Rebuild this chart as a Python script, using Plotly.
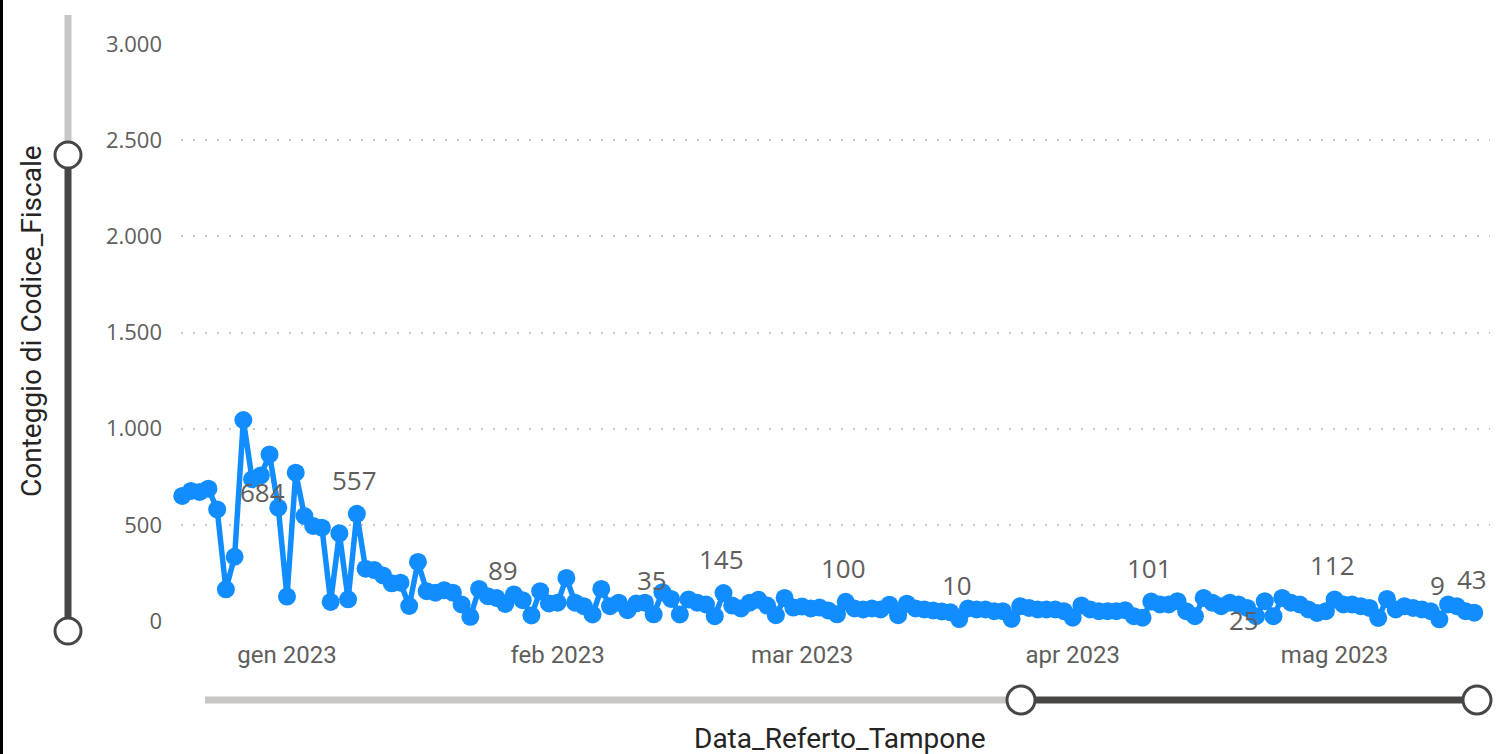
import pandas as pd
import plotly.graph_objects as go

# ---------------- data ----------------
start_date = "2022-12-20"
counts = [
    650, 676, 671, 688, 580, 165, 334, 1045, 737, 757, 866, 589,
    127, 771, 546, 494, 485, 99, 456, 113, 557, 272, 265, 237, 196, 199, 78, 307, 155, 147,
    160, 147, 86, 22, 167, 129, 120, 89, 138, 108, 29, 155, 91,
    95, 224, 95, 77, 34, 167, 77, 95, 56, 91, 95, 35, 150, 115, 34, 112, 95, 86, 25, 145,
    80, 65, 95, 110, 80, 30, 120, 70,
    75, 65, 70, 55, 35, 100, 65, 60, 65, 60, 85, 30, 90, 65, 60, 55, 50, 45, 10, 65, 60, 60, 51, 51,
    11, 77, 68, 60, 60, 60, 51, 17,
    81, 60, 51, 51, 51, 56, 25, 17, 101, 86, 86, 103, 51, 25, 120, 95, 77, 95, 86, 68, 25, 103, 25, 120, 95, 86, 60, 42,
    51, 112, 86, 86, 77, 68, 16, 115, 60, 77, 68, 60, 51, 9, 86, 77, 51, 43,
]
dates = pd.date_range(start_date, periods=len(counts), freq="D")

label_dates = ["2022-12-29", "2023-01-09", "2023-01-26", "2023-02-12", "2023-02-20",
               "2023-03-06", "2023-03-19", "2023-04-10", "2023-04-22", "2023-05-01",
               "2023-05-13", "2023-05-17"]
label_texts = ["684", "557", "89", "35", "145", "100", "10", "101", "25", "112", "9", "43"]

month_ticks = ["2023-01-01", "2023-02-01", "2023-03-01", "2023-04-01", "2023-05-01"]
month_labels = ["gen 2023", "feb 2023", "mar 2023", "apr 2023", "mag 2023"]
y_ticks = [0, 500, 1000, 1500, 2000, 2500, 3000]
y_labels = ["0", "500", "1.000", "1.500", "2.000", "2.500", "3.000"]

# ---------------- layout geometry ----------------
W, H = 1500, 754
L, R, T, B = 181, 1490, 44, 621
PW, PH = R - L, B - T
BLUE = "#118DFF"
DARK = "#484644"
LIGHT = "#C8C6C4"
GREY_TXT = "#605E5C"


def px(x):
    return (x - L) / PW


def py(y):
    return (B - y) / PH


jan1 = pd.Timestamp("2023-01-01")
px_per_day = 8.73
x0 = jan1 + pd.Timedelta(days=(L - 287) / px_per_day)
x1 = jan1 + pd.Timedelta(days=(R - 287) / px_per_day)

fig = go.Figure()
fig.add_trace(go.Scatter(
    x=dates, y=counts, mode="lines+markers",
    line=dict(color=BLUE, width=5.5),
    marker=dict(color=BLUE, size=18),
    cliponaxis=False, hoverinfo="x+y", showlegend=False,
))

lookup = dict(zip(dates.strftime("%Y-%m-%d"), counts))
label_shift = {"684": (2, -17), "25": (-12, -4)}
annotations = []
for d, t in zip(label_dates, label_texts):
    xs, ys = label_shift.get(t, (-2, 34))
    annotations.append(dict(
        x=d, y=lookup[d], xref="x", yref="y", text=t, showarrow=False,
        xshift=xs, yshift=ys, font=dict(family="Open Sans", size=26, color=GREY_TXT),
    ))

annotations.append(dict(
    x=px(840), y=py(738), xref="paper", yref="paper", text="Data_Referto_Tampone",
    showarrow=False, font=dict(family="Roboto", size=28, color="#252423"),
    xanchor="center", yanchor="middle",
))
annotations.append(dict(
    x=px(32), y=py(321), xref="paper", yref="paper", text="Conteggio di Codice_Fiscale",
    showarrow=False, textangle=-90, font=dict(family="Roboto", size=28, color="#252423"),
    xanchor="center", yanchor="middle",
))

shapes = []
# left border
shapes.append(dict(type="line", xref="paper", yref="paper", x0=px(1.5), x1=px(1.5),
                   y0=py(0), y1=py(754), line=dict(color="#000000", width=3)))
# y zoom slider
shapes.append(dict(type="line", xref="paper", yref="paper", x0=px(68), x1=px(68),
                   y0=py(15), y1=py(155), line=dict(color=LIGHT, width=7)))
shapes.append(dict(type="line", xref="paper", yref="paper", x0=px(68), x1=px(68),
                   y0=py(155), y1=py(631), line=dict(color=DARK, width=7)))
for cy in (155, 631):
    shapes.append(dict(type="circle", xref="paper", yref="paper",
                       x0=px(68 - 13), x1=px(68 + 13), y0=py(cy + 13), y1=py(cy - 13),
                       fillcolor="white", line=dict(color=DARK, width=3)))
# x zoom slider
shapes.append(dict(type="line", xref="paper", yref="paper", x0=px(205), x1=px(1021),
                   y0=py(700), y1=py(700), line=dict(color=LIGHT, width=7)))
shapes.append(dict(type="line", xref="paper", yref="paper", x0=px(1021), x1=px(1477),
                   y0=py(700), y1=py(700), line=dict(color=DARK, width=7)))
for cx in (1021, 1477):
    shapes.append(dict(type="circle", xref="paper", yref="paper",
                       x0=px(cx - 14), x1=px(cx + 14), y0=py(700 + 14), y1=py(700 - 14),
                       fillcolor="white", line=dict(color=DARK, width=3)))

fig.update_layout(
    width=W, height=H,
    margin=dict(l=L, r=W - R, t=T, b=H - B, pad=0),
    paper_bgcolor="white", plot_bgcolor="white",
    annotations=annotations, shapes=shapes,
    xaxis=dict(
        type="date", range=[x0, x1], tickvals=month_ticks, ticktext=month_labels,
        showgrid=False, zeroline=False, showline=False, ticks="",
        tickfont=dict(family="Roboto", size=24, color=GREY_TXT),
        ticklabelstandoff=17,
    ),
    yaxis=dict(
        range=[0, 3000], tickvals=y_ticks, ticktext=y_labels,
        showgrid=True, gridcolor=LIGHT, gridwidth=2, griddash="2px,10px",
        zeroline=False, showline=False, ticks="",
        tickfont=dict(family="Open Sans", size=22, color=GREY_TXT),
        ticklabelstandoff=18,
    ),
    showlegend=False,
)

fig.write_html(
    "out.html",
    config={"displayModeBar": False},
    post_script="document.body.style.margin='0';document.body.style.overflow='hidden';",
)
